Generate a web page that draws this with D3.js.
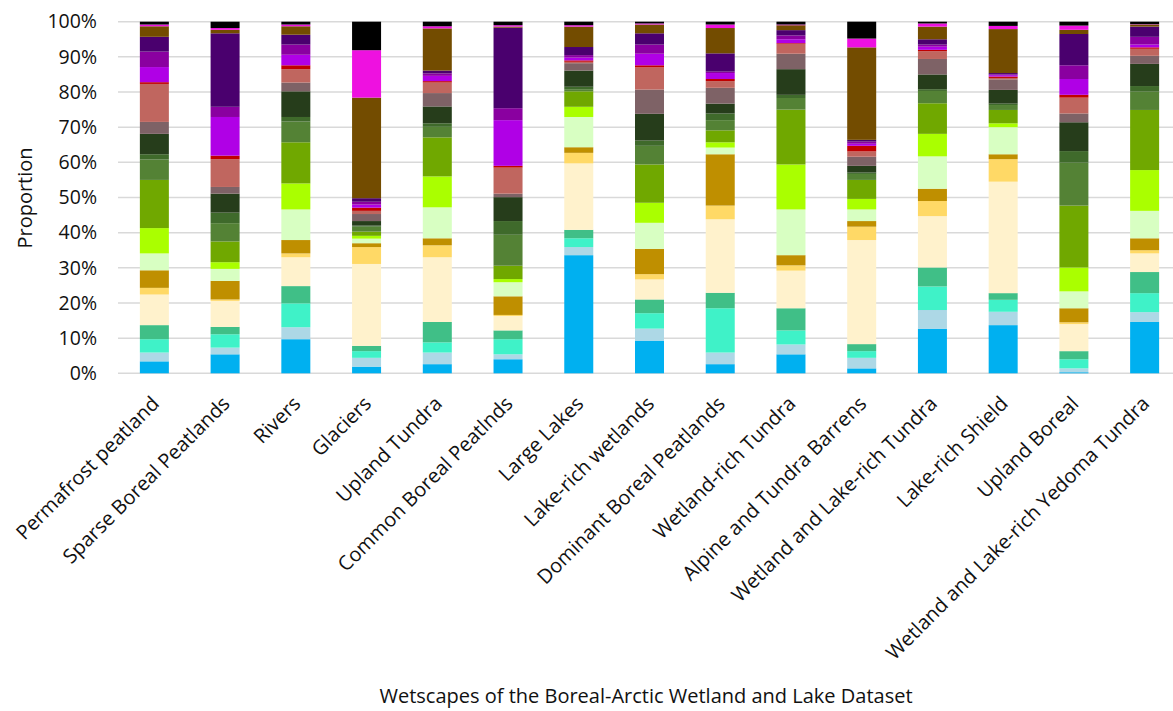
<!DOCTYPE html>
<html>
<head>
<meta charset="utf-8">
<script src="https://cdn.jsdelivr.net/npm/d3@7"></script>
<style>
body { margin: 0; background: #fff; }
text { font-family: 'Open Sans', sans-serif; fill: #111; }
</style>
</head>
<body>
<div id="chart"></div>
<script>
const categories = [
  'Permafrost peatland', 'Sparse Boreal Peatlands', 'Rivers', 'Glaciers', 'Upland Tundra',
  'Common Boreal Peatlnds', 'Large Lakes', 'Lake-rich wetlands', 'Dominant Boreal Peatlands',
  'Wetland-rich Tundra', 'Alpine and Tundra Barrens', 'Wetland and Lake-rich Tundra',
  'Lake-rich Shield', 'Upland Boreal', 'Wetland and Lake-rich Yedoma Tundra'
]

// stacking order, bottom to top
const seriesColors = [
  '#00b0f0', '#add8e6', '#3ff2c8', '#40bf87', '#fff2cc', '#ffd966', '#bf8f00', '#d8ffc2',
  '#aaff00', '#70a800', '#548235', '#3f6a2b', '#263d1b', '#7e6266', '#c0665f', '#c00000',
  '#b000e6', '#8a00a0', '#4a006e', '#734c00', '#ee11e0', '#000000'
]

// percent per wetscape, one row per category, same order as seriesColors
const shares = [
  [3.4, 2.5, 3.8, 4.0, 8.7, 1.9, 5.0, 4.8, 7.2, 13.7, 5.8, 1.5, 5.8, 3.4, 10.8, 0.5, 4.3, 4.4, 4.2, 3.0, 0.5, 0.8],
  [5.4, 1.9, 3.8, 2.1, 7.4, 0.4, 5.3, 3.4, 1.9, 5.9, 5.2, 3.0, 5.4, 1.9, 7.9, 1.0, 11.0, 2.9, 20.9, 1.0, 0.5, 1.8],
  [9.7, 3.4, 6.8, 4.9, 8.2, 1.1, 3.8, 8.7, 7.4, 11.7, 5.9, 1.3, 7.3, 2.5, 3.8, 1.1, 3.0, 2.9, 2.8, 2.4, 0.5, 0.8],
  [1.9, 2.5, 1.9, 1.5, 23.3, 4.8, 1.1, 1.3, 0.8, 1.2, 1.4, 0.3, 1.3, 2.0, 0.9, 0.9, 0.9, 0.8, 1.0, 28.6, 13.5, 8.1],
  [2.6, 3.3, 2.9, 5.8, 18.4, 3.4, 2.0, 8.8, 8.8, 11.1, 3.0, 1.0, 4.8, 3.8, 3.0, 0.4, 1.5, 0.7, 0.8, 12.0, 0.6, 1.3],
  [4.0, 1.4, 4.3, 2.5, 4.1, 0.3, 5.3, 4.0, 0.9, 3.8, 8.8, 3.9, 6.8, 1.0, 7.4, 0.5, 13.0, 3.4, 22.9, 0.3, 0.4, 1.0],
  [33.6, 2.3, 2.5, 2.4, 18.9, 3.0, 1.6, 8.6, 2.9, 4.4, 0.6, 0.7, 4.6, 2.1, 0.4, 0.4, 0.8, 0.7, 2.3, 5.8, 0.4, 1.0],
  [9.3, 3.4, 4.4, 3.9, 5.7, 1.5, 7.2, 7.4, 5.7, 10.9, 5.3, 1.5, 7.6, 6.9, 6.3, 0.6, 3.3, 2.6, 3.2, 2.5, 0.3, 0.5],
  [2.6, 3.3, 12.6, 4.4, 20.9, 3.9, 14.6, 1.9, 1.5, 3.4, 2.9, 1.9, 2.8, 4.5, 1.9, 0.6, 1.7, 0.4, 5.2, 7.2, 1.0, 0.8],
  [5.4, 2.8, 4.0, 6.3, 10.7, 1.5, 2.9, 13.0, 12.8, 15.6, 3.3, 0.9, 7.3, 4.4, 2.8, 0.2, 1.1, 1.1, 1.5, 1.4, 0.2, 0.8],
  [1.4, 3.0, 1.9, 2.0, 29.6, 3.8, 1.6, 3.3, 3.0, 5.4, 1.7, 0.4, 1.9, 2.6, 1.5, 1.6, 0.6, 0.6, 0.5, 26.3, 2.5, 4.8],
  [12.7, 5.3, 6.7, 5.4, 14.6, 4.3, 3.5, 9.2, 6.4, 8.7, 3.5, 0.5, 4.2, 4.4, 2.2, 0.4, 0.9, 0.6, 1.5, 3.6, 0.9, 0.5],
  [13.7, 3.8, 3.4, 1.9, 31.7, 6.4, 1.4, 7.7, 1.1, 3.8, 1.4, 0.4, 3.9, 3.0, 0.4, 0.4, 0.4, 0.2, 0.4, 12.5, 0.9, 1.2],
  [0.3, 1.1, 2.6, 2.3, 7.7, 0.5, 4.0, 4.8, 6.8, 17.6, 12.2, 3.3, 8.2, 2.5, 4.5, 0.8, 4.5, 3.9, 8.9, 1.2, 1.2, 1.1],
  [14.6, 2.8, 5.4, 6.0, 5.3, 0.9, 3.4, 7.8, 11.6, 17.1, 5.2, 1.6, 6.3, 2.3, 2.0, 0.4, 0.8, 2.2, 2.9, 0.6, 0.1, 0.7]
]

const yTicks = [0, 10, 20, 30, 40, 50, 60, 70, 80, 90, 100]

const width = 1173
const height = 711

const svg = d3.select('#chart')
.append('svg')
.attr('width', width)
.attr('height', height)

const x = d3.scaleBand()
.domain(categories)
.range([119, 1180])
.paddingInner(0.59)
.paddingOuter(0.295)

const y = d3.scaleLinear()
.domain([0, 100])
.range([373.3, 21.7])

const grid = svg.append('g')
grid.selectAll('line')
.data(yTicks)
.join('line')
.attr('x1', 118)
.attr('x2', 1180)
.attr('y1', d => y(d))
.attr('y2', d => y(d))
.attr('stroke', '#d9d9d9')
.attr('stroke-width', 1.5)

const yAxis = svg.append('g')
.attr('transform', 'translate(97,0)')
.call(d3.axisLeft(y).tickValues(yTicks).tickFormat(d => d + '%').tickSize(0).tickPadding(0))
yAxis.select('.domain').remove()
yAxis.selectAll('text')
.attr('font-family', "'Open Sans', sans-serif")
.attr('font-size', 19.5)
.attr('fill', '#111')

const stacked = d3.stack()
.keys(d3.range(seriesColors.length))(shares)

svg.append('g')
.selectAll('g')
.data(stacked)
.join('g')
.attr('fill', (d, i) => seriesColors[i])
.selectAll('rect')
.data(d => d)
.join('rect')
.attr('x', (d, i) => x(categories[i]))
.attr('width', x.bandwidth())
.attr('y', d => y(d[1]))
.attr('height', d => y(d[0]) - y(d[1]))

svg.append('g')
.selectAll('text')
.data(categories)
.join('text')
.attr('transform', d => `translate(${x(d) + x.bandwidth() / 2 + 1},400) rotate(-45)`)
.attr('text-anchor', 'end')
.attr('dy', '0.35em')
.attr('font-size', 20)
.text(d => d)

svg.append('text')
.attr('transform', 'translate(25,198) rotate(-90)')
.attr('text-anchor', 'middle')
.attr('dy', '0.35em')
.attr('font-size', 20)
.text('Proportion')

svg.append('text')
.attr('x', 646)
.attr('y', 703)
.attr('text-anchor', 'middle')
.attr('font-size', 20)
.text('Wetscapes of the Boreal-Arctic Wetland and Lake Dataset')
</script>
</body>
</html>
